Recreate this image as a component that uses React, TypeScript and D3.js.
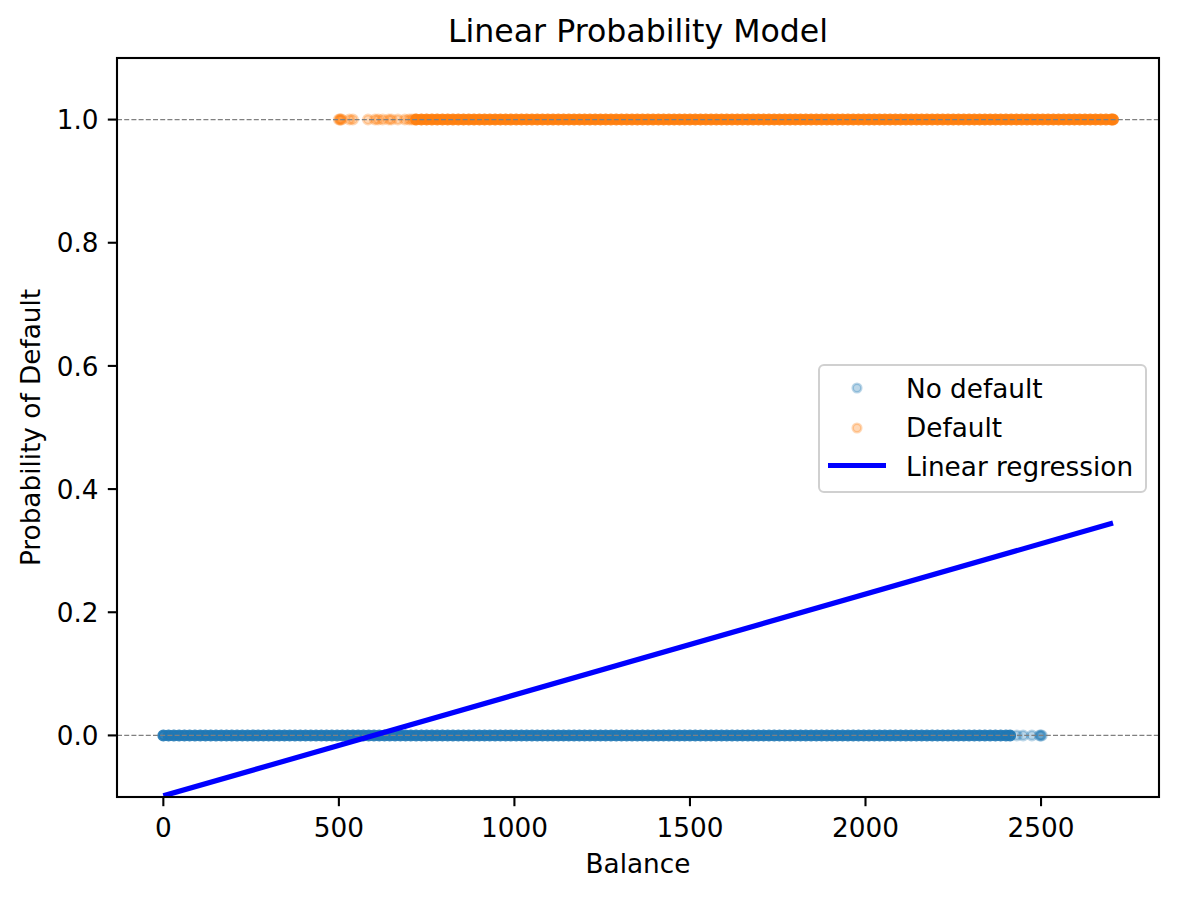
import React from 'react';
import * as d3 from 'd3';

// ---------------- data ----------------
const xTicks = [0, 500, 1000, 1500, 2000, 2500];
const yTicks = [0.0, 0.2, 0.4, 0.6, 0.8, 1.0];
const xLimits = [-132, 2836];
const yLimits = [-0.1, 1.1];

// "No default" balances (dense band, each marker = a cluster of observations)
const noDefaultDense = [
  0, 15, 30, 45, 60, 75, 90, 105, 120, 135,
  150, 165, 180, 195, 210, 225, 240, 255, 270, 285,
  300, 315, 330, 345, 360, 375, 390, 405, 420, 435,
  450, 465, 480, 495, 510, 525, 540, 555, 570, 585,
  600, 615, 630, 645, 660, 675, 690, 705, 720, 735,
  750, 765, 780, 795, 810, 825, 840, 855, 870, 885,
  900, 915, 930, 945, 960, 975, 990, 1005, 1020, 1035,
  1050, 1065, 1080, 1095, 1110, 1125, 1140, 1155, 1170, 1185,
  1200, 1215, 1230, 1245, 1260, 1275, 1290, 1305, 1320, 1335,
  1350, 1365, 1380, 1395, 1410, 1425, 1440, 1455, 1470, 1485,
  1500, 1515, 1530, 1545, 1560, 1575, 1590, 1605, 1620, 1635,
  1650, 1665, 1680, 1695, 1710, 1725, 1740, 1755, 1770, 1785,
  1800, 1815, 1830, 1845, 1860, 1875, 1890, 1905, 1920, 1935,
  1950, 1965, 1980, 1995, 2010, 2025, 2040, 2055, 2070, 2085,
  2100, 2115, 2130, 2145, 2160, 2175, 2190, 2205, 2220, 2235,
  2250, 2265, 2280, 2295, 2310, 2325, 2340, 2355, 2370, 2385,
  2400, 2412,
];
// isolated "No default" observations
const noDefaultSparse = [2431, 2449, 2474, 2496, 2499, 2502];

// "Default" balances
const defaultSparse = [500, 503, 505, 508, 530, 540, 583, 603, 612, 625, 642, 650, 668, 688, 700, 708, 716];
const defaultDense = [
  720, 735, 750, 765, 780, 795, 810, 825, 840, 855,
  870, 885, 900, 915, 930, 945, 960, 975, 990, 1005,
  1020, 1035, 1050, 1065, 1080, 1095, 1110, 1125, 1140, 1155,
  1170, 1185, 1200, 1215, 1230, 1245, 1260, 1275, 1290, 1305,
  1320, 1335, 1350, 1365, 1380, 1395, 1410, 1425, 1440, 1455,
  1470, 1485, 1500, 1515, 1530, 1545, 1560, 1575, 1590, 1605,
  1620, 1635, 1650, 1665, 1680, 1695, 1710, 1725, 1740, 1755,
  1770, 1785, 1800, 1815, 1830, 1845, 1860, 1875, 1890, 1905,
  1920, 1935, 1950, 1965, 1980, 1995, 2010, 2025, 2040, 2055,
  2070, 2085, 2100, 2115, 2130, 2145, 2160, 2175, 2190, 2205,
  2220, 2235, 2250, 2265, 2280, 2295, 2310, 2325, 2340, 2355,
  2370, 2385, 2400, 2415, 2430, 2445, 2460, 2475, 2490, 2505,
  2520, 2535, 2550, 2565, 2580, 2595, 2610, 2625, 2640, 2655,
  2670, 2685, 2700, 2705,
];

// Linear regression fit
const regIntercept = -0.0981;
const regSlope = 0.0001638;
const regBalanceRange = [0, 2705];

const legendLabels = ['No default', 'Default', 'Linear regression'];

// ---------------- layout ----------------
const W = 1177;
const H = 898;
const plot = { left: 117, right: 1159, top: 58, bottom: 797 };
const FONT = '"DejaVu Sans", Verdana, sans-serif';
const BLUE = '#1f77b4';
const ORANGE = '#ff7f0e';

export default function App() {
  const x = d3.scaleLinear().domain(xLimits).range([plot.left, plot.right]);
  const y = d3.scaleLinear().domain(yLimits).range([plot.bottom, plot.top]);

  const line = d3
    .line<number>()
    .x((b) => x(b))
    .y((b) => y(regIntercept + regSlope * b));

  const r = 4.6;
  const sw = 2.8;
  const sparseAlpha = 0.3;
  const denseAlpha = 0.92;

  const dot = (b: number, v: number, color: string, a: number, key: string) => (
    <circle
      key={key}
      cx={x(b)}
      cy={y(v)}
      r={r}
      fill={color}
      stroke={color}
      strokeWidth={sw}
      fillOpacity={a}
      strokeOpacity={a}
    />
  );

  const tickLen = 9.2;
  const fs = 26.3;

  return (
    <svg
      width={W}
      height={H}
      style={{ position: 'absolute', left: 0, top: 0, background: '#fff' }}
      fontFamily={FONT}
    >
      <defs>
        <clipPath id="axclip">
          <rect x={plot.left} y={plot.top} width={plot.right - plot.left} height={plot.bottom - plot.top} />
        </clipPath>
      </defs>
      <rect x={0} y={0} width={W} height={H} fill="#fff" />

      <g clipPath="url(#axclip)">
        {noDefaultDense.map((b, i) => dot(b, 0, BLUE, denseAlpha, 'nd' + i))}
        {noDefaultSparse.map((b, i) => dot(b, 0, BLUE, sparseAlpha, 'ns' + i))}
        {defaultSparse.map((b, i) => dot(b, 1, ORANGE, sparseAlpha, 'ds' + i))}
        {defaultDense.map((b, i) => dot(b, 1, ORANGE, denseAlpha, 'dd' + i))}

        {[0, 1].map((v) => (
          <line
            key={'h' + v}
            x1={plot.left}
            x2={plot.right}
            y1={y(v)}
            y2={y(v)}
            stroke="#808080"
            strokeWidth={1.3}
            strokeDasharray="5,2.2"
          />
        ))}

        <path d={line(regBalanceRange) || ''} fill="none" stroke="#0000ff" strokeWidth={5.2} />
      </g>

      {/* spines */}
      <rect
        x={plot.left}
        y={plot.top}
        width={plot.right - plot.left}
        height={plot.bottom - plot.top}
        fill="none"
        stroke="#000"
        strokeWidth={2.1}
      />

      {/* x ticks */}
      {xTicks.map((t) => (
        <g key={'xt' + t}>
          <line x1={x(t)} x2={x(t)} y1={plot.bottom} y2={plot.bottom + tickLen} stroke="#000" strokeWidth={2.1} />
          <text x={x(t)} y={837} textAnchor="middle" fontSize={fs} fill="#000">
            {String(t)}
          </text>
        </g>
      ))}

      {/* y ticks */}
      {yTicks.map((t) => (
        <g key={'yt' + t}>
          <line x1={plot.left - tickLen} x2={plot.left} y1={y(t)} y2={y(t)} stroke="#000" strokeWidth={2.1} />
          <text x={98.5} y={y(t) + 9.6} textAnchor="end" fontSize={fs} fill="#000">
            {t.toFixed(1)}
          </text>
        </g>
      ))}

      {/* axis labels */}
      <text x={(plot.left + plot.right) / 2} y={873} textAnchor="middle" fontSize={fs} fill="#000">
        Balance
      </text>
      <text
        transform={`translate(40, ${(plot.top + plot.bottom) / 2}) rotate(-90)`}
        textAnchor="middle"
        fontSize={fs}
        fill="#000"
      >
        Probability of Default
      </text>

      {/* title */}
      <text x={(plot.left + plot.right) / 2} y={42} textAnchor="middle" fontSize={31.6} fill="#000">
        Linear Probability Model
      </text>

      {/* legend */}
      <g>
        <rect x={819} y={365} width={327} height={127} rx={5} ry={5} fill="#fff" fillOpacity={0.8} stroke="#d0d0d0" strokeWidth={2} />
        <circle cx={857} cy={388} r={4.3} fill={BLUE} stroke={BLUE} strokeWidth={2.5} fillOpacity={0.3} strokeOpacity={0.3} />
        <circle cx={857} cy={428} r={4.3} fill={ORANGE} stroke={ORANGE} strokeWidth={2.5} fillOpacity={0.3} strokeOpacity={0.3} />
        <line x1={828} x2={886} y1={465.5} y2={465.5} stroke="#0000ff" strokeWidth={5.2} />
        {legendLabels.map((l, i) => (
          <text key={l} x={906} y={388 + i * 39 + 9.5} fontSize={fs} fill="#000">
            {l}
          </text>
        ))}
      </g>
    </svg>
  );
}
